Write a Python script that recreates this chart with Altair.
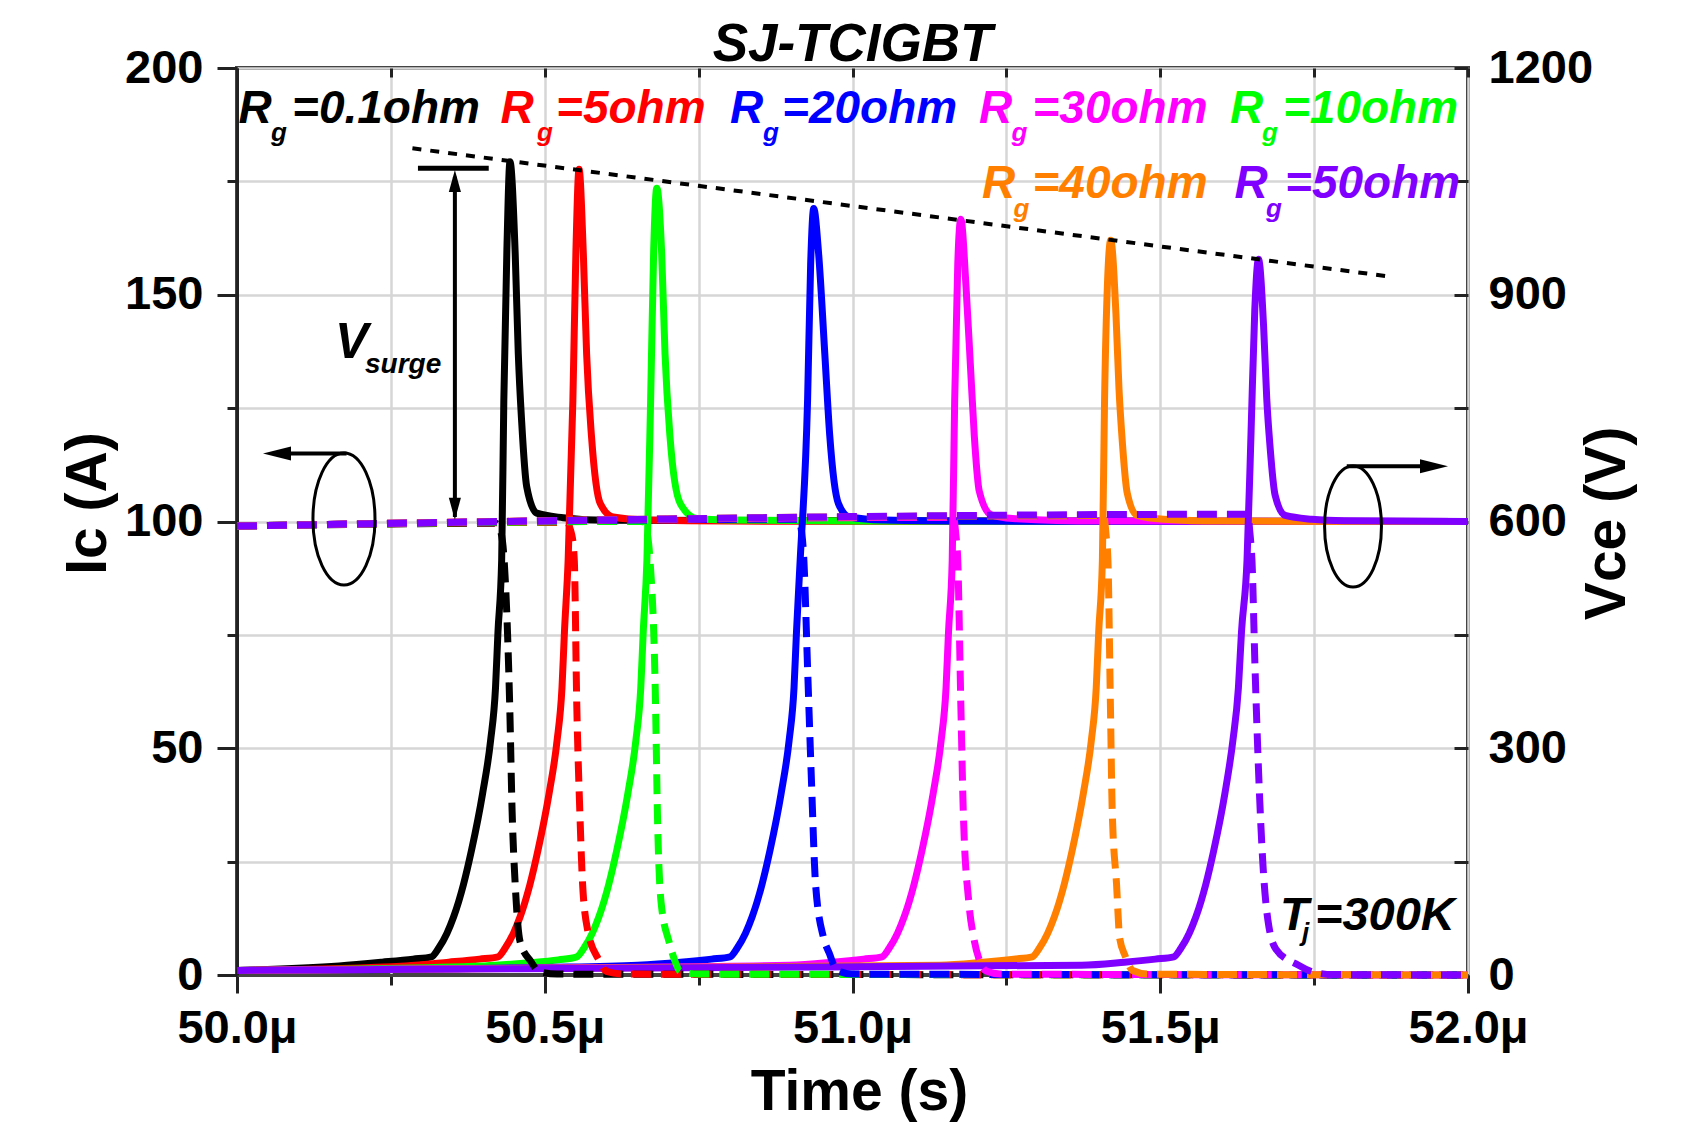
import altair as alt
import pandas as pd

FONT = "Liberation Sans"

# ---------------- series identity ----------------
series_keys = ["s1", "s2", "s3", "s4", "s5", "s6", "s7"]
series_rg = ["0.1", "5", "10", "20", "30", "40", "50"]
series_colors = ["#000000", "#FF0000", "#00FF00", "#0000FF", "#FF00FF", "#FF8000", "#8000FF"]

# ---------------- Vce (V), solid lines, right axis ----------------
vce_t_s1 = [50.0, 50.166, 50.236, 50.286, 50.316, 50.328, 50.341, 50.352, 50.368, 50.381, 50.399, 50.412, 50.420,
            50.424, 50.430, 50.4335, 50.4385, 50.4435, 50.452, 50.457, 50.4625, 50.4707, 50.487, 50.53, 50.60, 52.0]
vce_v_s1 = [6, 12, 17, 21, 24, 36, 55, 77, 120, 165, 240, 310, 380,
            454, 549, 760, 960, 1076, 954, 822, 732, 646, 611, 605, 601.5, 600]

vce_t_s2 = [50.0, 50.274, 50.344, 50.394, 50.424, 50.436, 50.449, 50.460, 50.476, 50.489, 50.507, 50.520, 50.528,
            50.532, 50.538, 50.5457, 50.5507, 50.5557, 50.5627, 50.568, 50.576, 50.59, 50.611, 50.666, 50.80, 52.0]
vce_v_s2 = [6, 12, 17, 21, 24, 36, 55, 77, 120, 165, 240, 310, 380,
            454, 549, 760, 960, 1066, 954, 822, 712, 624, 606, 602, 600.5, 600]

vce_t_s3 = [50.0, 50.402, 50.472, 50.522, 50.552, 50.564, 50.577, 50.588, 50.604, 50.617, 50.635, 50.648, 50.656,
            50.660, 50.666, 50.672, 50.677, 50.682, 50.690, 50.6954, 50.7035, 50.72, 50.747, 50.80, 51.0, 52.0]
vce_v_s3 = [6, 12, 16, 20, 24, 36, 55, 77, 120, 165, 240, 310, 380,
            454, 549, 760, 960, 1041, 954, 822, 712, 624, 604, 602, 600.5, 600]

vce_t_s4 = [50.0, 50.5, 50.651, 50.721, 50.771, 50.801, 50.813, 50.826, 50.837, 50.853, 50.866, 50.884, 50.897,
            50.905, 50.909, 50.915, 50.927, 50.932, 50.937, 50.945, 50.955, 50.963, 50.977, 50.995, 51.05, 51.2, 52.0]
vce_v_s4 = [6, 10, 13, 17, 21, 24, 36, 55, 77, 120, 165, 240, 310,
            380, 454, 549, 760, 940, 1014, 954, 822, 714, 624, 606, 602, 600.5, 600]

vce_t_s5 = [50.0, 50.6, 50.898, 50.968, 51.018, 51.048, 51.060, 51.073, 51.084, 51.100, 51.113, 51.131, 51.144,
            51.152, 51.156, 51.162, 51.166, 51.171, 51.176, 51.1845, 51.192, 51.198, 51.206, 51.225, 51.26, 51.4, 52.0]
vce_v_s5 = [6, 10, 13, 17, 21, 24, 36, 55, 77, 120, 165, 240, 310,
            380, 454, 549, 760, 940, 1000, 910, 800, 712, 640, 609, 604, 600.5, 600]

vce_t_s6 = [50.0, 50.7, 51.142, 51.212, 51.262, 51.292, 51.304, 51.317, 51.328, 51.344, 51.357, 51.375, 51.388,
            51.396, 51.400, 51.406, 51.4095, 51.4145, 51.4195, 51.428, 51.433, 51.4385, 51.4465, 51.4625, 51.505,
            51.6, 52.0]
vce_v_s6 = [6, 10, 13, 17, 21, 24, 36, 55, 77, 120, 165, 240, 310,
            380, 454, 549, 760, 920, 972, 875, 775, 704, 637, 608, 603,
            600.5, 600]

vce_t_s7 = [50.0, 50.8, 51.372, 51.442, 51.492, 51.522, 51.534, 51.547, 51.558, 51.574, 51.587, 51.605, 51.618,
            51.627, 51.632, 51.641, 51.6476, 51.6536, 51.6596, 51.668, 51.673, 51.6786, 51.6866, 51.703, 51.746,
            51.8, 52.0]
vce_v_s7 = [6, 10, 13, 17, 21, 24, 36, 55, 77, 120, 165, 240, 310,
            380, 454, 549, 720, 880, 947, 857, 763, 697, 635, 608, 603,
            601, 600]

# ---------------- Ic (A), dashed lines, left axis ----------------
ic_t_s1 = [50.0, 50.420, 50.428, 50.434, 50.443, 50.447, 50.452, 50.460, 50.478, 50.490, 50.52, 52.0]
ic_a_s1 = [99.0, 99.6, 98.0, 91.5, 59.8, 36, 20, 7.3, 2.9, 0.8, 0.2, 0]

ic_t_s2 = [50.0, 50.535, 50.544, 50.548, 50.552, 50.557, 50.5615, 50.570, 50.588, 50.600, 50.63, 52.0]
ic_a_s2 = [99.0, 99.8, 97.0, 91.5, 59.8, 36, 20, 9.7, 3.3, 0.8, 0.2, 0]

ic_t_s3 = [50.0, 50.660, 50.667, 50.671, 50.680, 50.683, 50.689, 50.702, 50.711, 50.720, 50.75, 52.0]
ic_a_s3 = [99.0, 100.0, 97.0, 91.5, 59.8, 36, 16, 7.3, 3.3, 0.8, 0.2, 0]

ic_t_s4 = [50.0, 50.912, 50.918, 50.921, 50.927, 50.933, 50.940, 50.953, 50.962, 50.975, 51.0, 52.0]
ic_a_s4 = [99.0, 100.5, 97.0, 91.5, 67.7, 44, 20, 8.2, 4.9, 1.0, 0.2, 0]

ic_t_s5 = [50.0, 51.164, 51.168, 51.171, 51.176, 51.180, 51.189, 51.197, 51.206, 51.218, 51.24, 52.0]
ic_a_s5 = [99.0, 100.9, 97.0, 91.5, 59.8, 36, 16, 8.2, 3.3, 0.8, 0.2, 0]

ic_t_s6 = [50.0, 51.408, 51.412, 51.415, 51.419, 51.422, 51.429, 51.434, 51.443, 51.455, 51.48, 52.0]
ic_a_s6 = [99.0, 101.3, 97.0, 91.5, 59.8, 36, 20, 8.2, 4.2, 1.0, 0.2, 0]

ic_t_s7 = [50.0, 51.642, 51.646, 51.649, 51.654, 51.660, 51.667, 51.675, 51.688, 51.724, 51.75, 51.78, 52.0]
ic_a_s7 = [99.0, 101.6, 97.0, 91.5, 67.7, 44, 24, 12, 5.7, 2.2, 0.6, 0.1, 0]

# ---------------- axis tick values ----------------
x_ticks = [50.0, 50.25, 50.5, 50.75, 51.0, 51.25, 51.5, 51.75, 52.0]
ic_ticks = [0, 25, 50, 75, 100, 125, 150, 175, 200]
vce_ticks = [0, 150, 300, 450, 600, 750, 900, 1050, 1200]

# ---------------- annotations (data coordinates: us, A) ----------------
chart_title = "SJ-TCIGBT"
title_t = [51.0]
title_a = [201.5]

envelope_t = [50.285, 51.876]
envelope_a = [182.3, 153.96]

rule_t1 = [50.354, 50.294, 50.065, 51.803]
rule_t2 = [50.354, 50.409, 50.178, 51.9448]
rule_a1 = [101.0, 177.9, 115.0, 112.2]
rule_a2 = [176.0, 177.9, 115.0, 112.2]
rule_w = [4, 5, 4, 4]

head_t = [50.354, 50.354, 50.065, 51.9448]
head_a = [175.1, 102.8, 115.0, 112.2]
head_shape = ["M0,-1 L0.55,1 L-0.55,1 Z", "M0,1 L0.55,-1 L-0.55,-1 Z",
              "M-1,0 L1,-0.5 L1,0.5 Z", "M1,0 L-1,-0.5 L-1,0.5 Z"]
head_size = [484, 484, 784, 784]

ELLIPSE = ("M0,-1 C0.2596,-1 0.47,-0.5523 0.47,0 C0.47,0.5523 0.2596,1 0,1 "
           "C-0.2596,1 -0.47,0.5523 -0.47,0 C-0.47,-0.5523 -0.2596,-1 0,-1 Z")
ell_t = [50.1738, 51.8132]
ell_a = [100.55, 98.9]
ell_size = [17424, 14641]

txt_str = ["R", "g", "=0.1ohm",
           "R", "g", "=5ohm",
           "R", "g", "=20ohm",
           "R", "g", "=30ohm",
           "R", "g", "=10ohm",
           "R", "g", "=40ohm",
           "R", "g", "=50ohm",
           "V", "surge",
           "T", "j", "=300K"]
txt_t = [50.0023, 50.0552, 50.0894,
         50.4281, 50.4874, 50.5183,
         50.8010, 50.8546, 50.8855,
         51.2055, 51.2583, 51.2924,
         51.6133, 51.6653, 51.6994,
         51.2104, 51.2617, 51.2924,
         51.6206, 51.6718, 51.7027,
         50.1592, 50.2080,
         51.6946, 51.7303, 51.7514]
txt_a = [187.9, 183.9, 187.9,
         187.9, 183.9, 187.9,
         187.9, 183.9, 187.9,
         187.9, 183.9, 187.9,
         187.9, 183.9, 187.9,
         171.3, 167.1, 171.3,
         171.3, 167.1, 171.3,
         136.05, 132.7,
         9.92, 7.5, 9.92]
txt_color = ["#000000"] * 3 + ["#FF0000"] * 3 + ["#0000FF"] * 3 + ["#FF00FF"] * 3 + \
            ["#00FF00"] * 3 + ["#FF8000"] * 3 + ["#8000FF"] * 3 + ["#000000"] * 2 + ["#000000"] * 3
txt_size = [46, 26, 46] * 7 + [50, 28] + [47, 26, 47]

# ---------------- tables ----------------
vce_t_all = [vce_t_s1, vce_t_s2, vce_t_s3, vce_t_s4, vce_t_s5, vce_t_s6, vce_t_s7]
vce_v_all = [vce_v_s1, vce_v_s2, vce_v_s3, vce_v_s4, vce_v_s5, vce_v_s6, vce_v_s7]
ic_t_all = [ic_t_s1, ic_t_s2, ic_t_s3, ic_t_s4, ic_t_s5, ic_t_s6, ic_t_s7]
ic_a_all = [ic_a_s1, ic_a_s2, ic_a_s3, ic_a_s4, ic_a_s5, ic_a_s6, ic_a_s7]

vce_df = pd.DataFrame([{"series": k, "t": t, "v": v}
                       for k, ts, vs in zip(series_keys, vce_t_all, vce_v_all)
                       for t, v in zip(ts, vs)])
ic_df = pd.DataFrame([{"series": k, "t": t, "a": a}
                      for k, ts, as_ in zip(series_keys, ic_t_all, ic_a_all)
                      for t, a in zip(ts, as_)])
env_df = pd.DataFrame({"t": envelope_t, "a": envelope_a})
rule_df = pd.DataFrame({"t1": rule_t1, "t2": rule_t2, "a1": rule_a1, "a2": rule_a2, "w": rule_w})
head_df = pd.DataFrame({"t": head_t, "a": head_a, "shape": head_shape, "size": head_size})
ell_df = pd.DataFrame({"t": ell_t, "a": ell_a, "shape": [ELLIPSE] * len(ell_t), "size": ell_size})
txt_df = pd.DataFrame({"t": txt_t, "a": txt_a, "text": txt_str, "color": txt_color, "size": txt_size})
ttl_df = pd.DataFrame({"t": title_t, "a": title_a, "text": [chart_title]})

# ---------------- scales & axes ----------------
x_scale = alt.Scale(domain=[50.0, 52.0], nice=False, zero=False)
yl_scale = alt.Scale(domain=[0, 200], nice=False, zero=False)
yr_scale = alt.Scale(domain=[0, 1200], nice=False, zero=False)
color_scale = alt.Scale(domain=series_keys, range=series_colors)

W, H = 1231, 907

x_bottom_axis = alt.Axis(
    orient="bottom", values=x_ticks,
    labelExpr="datum.value % 0.5 === 0 ? format(datum.value, '.1f') + 'μ' : ''",
    tickSize={"condition": {"test": "datum.value % 0.5 === 0", "value": 18}, "value": 10},
    tickWidth=3, tickColor="#222222", domainColor="#444444", domainWidth=3,
    grid=True, gridColor="#d6d6d6", gridWidth=2.5,
    labelFont=FONT, labelFontSize=47, labelFontWeight="bold", labelColor="black",
    labelPadding=12, labelFlush=False, labelOverlap=False,
    title="Time (s)", titleFont=FONT, titleFontSize=57, titleFontWeight="bold", titleColor="black",
    titleX=622, titleY=134, titleAlign="center", titleBaseline="alphabetic", titleAngle=0,
)
x_top_axis = alt.Axis(
    orient="top", values=x_ticks, labels=False, domain=False, grid=False,
    ticks=True, tickSize=9, offset=-9, tickWidth=3, tickColor="#222222", title=None,
)
y_left_axis = alt.Axis(
    orient="left", values=ic_ticks, format="d",
    labelExpr="datum.value % 50 === 0 ? datum.label : ''",
    tickSize={"condition": {"test": "datum.value % 50 === 0", "value": 20}, "value": 10},
    tickWidth=3, tickColor="#222222", domainColor="#222222", domainWidth=3,
    grid=True, gridColor="#d6d6d6", gridWidth=2.5,
    labelFont=FONT, labelFontSize=47, labelFontWeight="bold", labelColor="black",
    labelPadding=14, labelFlush=False, labelOverlap=False,
    title="Ic (A)", titleFont=FONT, titleFontSize=57, titleFontWeight="bold", titleColor="black",
    titleAngle=270, titleX=-149, titleY=435, titleAlign="center", titleBaseline="middle",
)
y_right_axis = alt.Axis(
    orient="right", values=vce_ticks, format="d",
    labelExpr="datum.value % 300 === 0 ? datum.label : ''",
    tickSize=14, offset=-14, tickWidth=3, tickColor="#222222", domain=False, grid=False,
    labelFont=FONT, labelFontSize=47, labelFontWeight="bold", labelColor="black",
    labelPadding=20, labelFlush=False, labelOverlap=False,
    title="Vce (V)", titleFont=FONT, titleFontSize=57, titleFontWeight="bold", titleColor="black",
    titleAngle=270, titleX=153, titleY=455, titleAlign="center", titleBaseline="middle",
)

# ---------------- layers ----------------
vce_layer = alt.Chart(vce_df).mark_line(strokeWidth=7, interpolate="monotone", strokeJoin="round").encode(
    x=alt.X("t:Q", scale=x_scale, axis=None),
    y=alt.Y("v:Q", scale=yr_scale, axis=y_right_axis),
    color=alt.Color("series:N", scale=color_scale, legend=None),
    detail="series:N",
)

ic_layer = alt.Chart(ic_df).mark_line(strokeWidth=7, strokeDash=[20, 10], interpolate="monotone").encode(
    x=alt.X("t:Q", scale=x_scale, axis=x_bottom_axis),
    y=alt.Y("a:Q", scale=yl_scale, axis=y_left_axis),
    color=alt.Color("series:N", scale=color_scale, legend=None),
    detail="series:N",
)

env_layer = alt.Chart(env_df).mark_line(strokeWidth=4, strokeDash=[9, 9], color="black").encode(
    x=alt.X("t:Q", scale=x_scale, axis=x_top_axis),
    y=alt.Y("a:Q", scale=yl_scale, axis=None),
)

rule_layer = alt.Chart(rule_df).mark_rule(color="black").encode(
    x=alt.X("t1:Q", scale=x_scale, axis=None), x2="t2:Q",
    y=alt.Y("a1:Q", scale=yl_scale, axis=None), y2="a2:Q",
    strokeWidth=alt.StrokeWidth("w:Q", scale=None),
)

head_layer = alt.Chart(head_df).mark_point(filled=True, opacity=1, color="black", strokeWidth=0).encode(
    x=alt.X("t:Q", scale=x_scale, axis=None),
    y=alt.Y("a:Q", scale=yl_scale, axis=None),
    shape=alt.Shape("shape:N", scale=None),
    size=alt.Size("size:Q", scale=None),
)

ell_layer = alt.Chart(ell_df).mark_point(filled=False, opacity=1, color="black", strokeWidth=3).encode(
    x=alt.X("t:Q", scale=x_scale, axis=None),
    y=alt.Y("a:Q", scale=yl_scale, axis=None),
    shape=alt.Shape("shape:N", scale=None),
    size=alt.Size("size:Q", scale=None),
)

txt_layer = alt.Chart(txt_df).mark_text(
    align="left", baseline="alphabetic", font=FONT, fontWeight="bold", fontStyle="italic"
).encode(
    x=alt.X("t:Q", scale=x_scale, axis=None),
    y=alt.Y("a:Q", scale=yl_scale, axis=None),
    text="text:N",
    color=alt.Color("color:N", scale=None),
    size=alt.Size("size:Q", scale=None),
)

ttl_layer = alt.Chart(ttl_df).mark_text(
    align="center", baseline="alphabetic", font=FONT, fontWeight="bold", fontStyle="italic",
    fontSize=53, color="black"
).encode(
    x=alt.X("t:Q", scale=x_scale, axis=None),
    y=alt.Y("a:Q", scale=yl_scale, axis=None),
    text="text:N",
)

chart = alt.layer(
    vce_layer, ic_layer, env_layer, rule_layer, head_layer, ell_layer, txt_layer, ttl_layer
).resolve_scale(
    y="independent"
).resolve_axis(
    x="independent", y="independent"
).properties(
    width=W, height=H,
    padding={"left": 229, "top": 60, "right": 220, "bottom": 147},
    autosize=alt.AutoSizeParams(type="none"),
    background="white",
).configure_view(
    stroke="#444444", strokeWidth=4
)

chart.save("out.html", embed_options={"renderer": "svg", "actions": False})
